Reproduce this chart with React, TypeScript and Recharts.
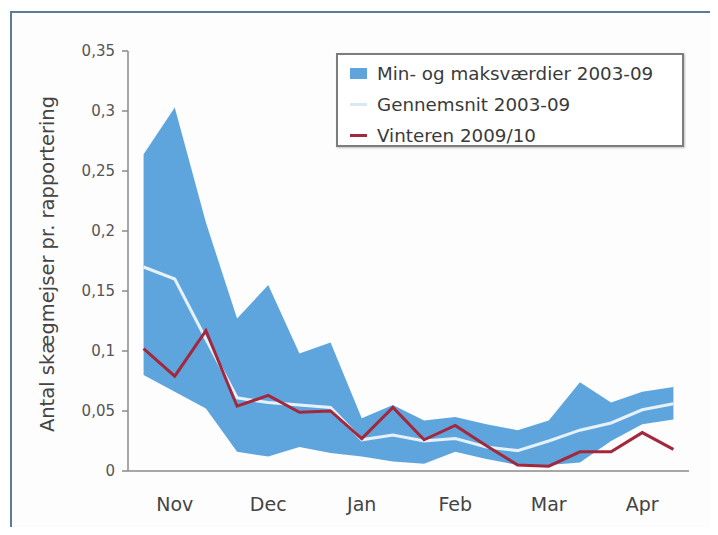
// Skægmejser pr. rapportering: min/maks-bånd, gennemsnit og vinteren 2009/10
import { Area, ComposedChart, Line, XAxis, YAxis } from 'recharts'

// 3 perioder pr. måned, nov - apr
const periods = [
  'Nov 1', 'Nov 2', 'Nov 3', 'Dec 1', 'Dec 2', 'Dec 3',
  'Jan 1', 'Jan 2', 'Jan 3', 'Feb 1', 'Feb 2', 'Feb 3',
  'Mar 1', 'Mar 2', 'Mar 3', 'Apr 1', 'Apr 2', 'Apr 3',
]
const maxValues = [0.264, 0.303, 0.207, 0.127, 0.155, 0.098, 0.107, 0.044, 0.055, 0.042, 0.045, 0.039, 0.034, 0.042, 0.074, 0.057, 0.066, 0.07]
const minValues = [0.08, 0.066, 0.052, 0.016, 0.012, 0.02, 0.015, 0.012, 0.008, 0.006, 0.016, 0.01, 0.005, 0.005, 0.007, 0.025, 0.039, 0.043]
const meanValues = [0.17, 0.16, 0.11, 0.061, 0.057, 0.055, 0.053, 0.026, 0.03, 0.025, 0.027, 0.02, 0.017, 0.025, 0.034, 0.04, 0.051, 0.056]
const winterValues = [0.102, 0.079, 0.117, 0.054, 0.063, 0.049, 0.05, 0.027, 0.053, 0.026, 0.038, 0.021, 0.005, 0.004, 0.016, 0.016, 0.032, 0.018]

const months = ['Nov', 'Dec', 'Jan', 'Feb', 'Mar', 'Apr']
const monthCenters = [1, 4, 7, 10, 13, 16]
const monthBounds = [2.5, 5.5, 8.5, 11.5, 14.5, 17.5]
const yTicks = [0, 0.05, 0.1, 0.15, 0.2, 0.25, 0.3, 0.35]

const seriesNames = ['Min- og maksværdier 2003-09', 'Gennemsnit 2003-09', 'Vinteren 2009/10']

const BAND = '#5ea5dd'
const MEAN = '#e6f1fb'
const RED = '#a3283c'
const FONT = '"DejaVu Sans", Verdana, sans-serif'

const data = periods.map((p, i) => ({
  x: i,
  period: p,
  band: [minValues[i], maxValues[i]],
  mean: meanValues[i],
  winter: winterValues[i],
}))

const fmt = (v: number) => String(Math.round(v * 100) / 100).replace('.', ',')

export default function App() {
  return (
    <div style={{ position: 'relative', width: 718, height: 535, margin: -8, overflow: 'hidden', background: '#fff', fontFamily: FONT }}>
      {/* blå ramme, går ud over bunden */}
      <div style={{ position: 'absolute', left: 10, top: 11, width: 702, height: 600, border: '2px solid #5b7c96', boxSizing: 'border-box', background: '#fdfdfd' }} />

      <div style={{ position: 'absolute', left: 0, top: 0 }}>
        <ComposedChart width={718} height={535} data={data} margin={{ top: 51, right: 29, left: 0, bottom: 22 }}>
          <XAxis
            dataKey="x"
            type="number"
            domain={[-0.5, 17.5]}
            ticks={monthBounds}
            tick={false}
            tickSize={8}
            height={8}
            stroke="#8a8a8a"
            strokeWidth={1.5}
          />
          <XAxis
            xAxisId="months"
            dataKey="x"
            type="number"
            domain={[-0.5, 17.5]}
            ticks={monthCenters}
            tickFormatter={(v: number) => months[monthCenters.indexOf(v)] ?? ''}
            axisLine={false}
            tickLine={false}
            tickSize={0}
            tickMargin={19}
            height={34}
            tick={{ fontSize: 19, fill: '#444', fontFamily: FONT }}
          />
          <YAxis
            domain={[0, 0.35]}
            ticks={yTicks}
            tickFormatter={fmt}
            width={128}
            tickSize={6}
            tickMargin={7}
            stroke="#8a8a8a"
            strokeWidth={1.5}
            tick={{ fontSize: 15, fill: '#555', fontFamily: FONT }}
          />
          <Area dataKey="band" type="linear" fill={BAND} fillOpacity={1} stroke="none" isAnimationActive={false} activeDot={false} />
          <Line dataKey="mean" type="linear" stroke={MEAN} strokeWidth={3} dot={false} activeDot={false} isAnimationActive={false} />
          <Line dataKey="winter" type="linear" stroke={RED} strokeWidth={3} dot={false} activeDot={false} isAnimationActive={false} />
        </ComposedChart>
      </div>

      {/* y-aksens titel */}
      <div style={{ position: 'absolute', left: 47, top: 264, transform: 'translate(-50%, -50%) rotate(-90deg)', whiteSpace: 'nowrap', fontSize: 19.5, color: '#444' }}>
        Antal skægmejser pr. rapportering
      </div>

      {/* forklaring */}
      <div style={{ position: 'absolute', left: 336, top: 53, width: 348, height: 94, border: '2px solid #7d7d7d', boxSizing: 'border-box', background: '#fff', boxShadow: '1px 1px 2px rgba(0,0,0,0.25)', fontSize: 18.3, color: '#3a3a3a' }}>
        {seriesNames.map((name, i) => (
          <div key={name} style={{ position: 'absolute', left: 12, top: 4 + i * 31, height: 28, display: 'flex', alignItems: 'center', whiteSpace: 'nowrap' }}>
            {i === 0 ? (
              <span style={{ display: 'inline-block', width: 17, height: 11, background: BAND, marginRight: 10 }} />
            ) : (
              <span style={{ display: 'inline-block', width: 17, height: 3, background: i === 1 ? '#d8e8f5' : RED, marginRight: 10 }} />
            )}
            {name}
          </div>
        ))}
      </div>
    </div>
  )
}
